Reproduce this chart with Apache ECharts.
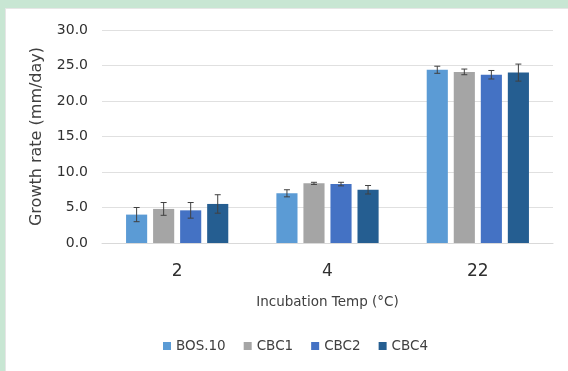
<!DOCTYPE html>
<html><head><meta charset="utf-8">
<script src="https://cdn.jsdelivr.net/npm/echarts@6/dist/echarts.min.js"></script>
<style>html,body{margin:0;padding:0;background:#c8e6d3;}#c{width:568px;height:371px;}</style>
</head><body><div id="c"></div>
<script>
const categories = ['2', '4', '22'];
const seriesNames = ['BOS.10', 'CBC1', 'CBC2', 'CBC4'];
const bos10 = [4.0, 7.0, 24.4];
const cbc1 = [4.8, 8.4, 24.1];
const cbc2 = [4.6, 8.3, 23.7];
const cbc4 = [5.5, 7.5, 24.0];
const bos10Err = [1.0, 0.5, 0.5];
const cbc1Err = [0.9, 0.15, 0.4];
const cbc2Err = [1.1, 0.25, 0.6];
const cbc4Err = [1.3, 0.6, 1.2];
const yTicks = [0, 5, 10, 15, 20, 25, 30];
const colors = ['#5b9bd5', '#a5a5a5', '#4472c4', '#255e91'];

const values = [bos10, cbc1, cbc2, cbc4];
const errs = [bos10Err, cbc1Err, cbc2Err, cbc4Err];
const chart = echarts.init(document.getElementById('c'));
const series = [];
values.forEach((v, i) => {
  series.push({
    name: seriesNames[i], type: 'bar', data: v,
    itemStyle: { color: colors[i] },
    barGap: '28%', barCategoryGap: '32%'
  });
});
values.forEach((v, i) => {
  series.push({
    type: 'custom', name: seriesNames[i] + '_err', z: 10,
    data: v.map((val, j) => [j, val - errs[i][j], val + errs[i][j]]),
    renderItem: function (params, api) {
      const ci = api.value(0);
      const lo = api.coord([ci, api.value(1)]);
      const hi = api.coord([ci, api.value(2)]);
      const bw = api.size([1, 0])[0];
      const n = 4, barW = bw * (1 - 0.32) / (n + (n - 1) * 0.28);
      const total = n * barW + (n - 1) * 0.28 * barW;
      const x = lo[0] - total / 2 + barW / 2 + i * barW * 1.28;
      const hw = 3;
      const st = { stroke: '#404040', lineWidth: 1 };
      return { type: 'group', children: [
        { type: 'line', shape: { x1: x, y1: lo[1], x2: x, y2: hi[1] }, style: st },
        { type: 'line', shape: { x1: x - hw, y1: lo[1], x2: x + hw, y2: lo[1] }, style: st },
        { type: 'line', shape: { x1: x - hw, y1: hi[1], x2: x + hw, y2: hi[1] }, style: st }
      ]};
    }
  });
});
chart.setOption({
  animation: false,
  textStyle: { fontFamily: 'DejaVu Sans, sans-serif' },
  graphic: [{ type: 'rect', left: 5, top: 8, shape: { width: 563, height: 363 },
    style: { fill: '#ffffff', stroke: '#e6e6e6', lineWidth: 1 }, z: -10 }],
  color: colors,
  grid: { left: 102, right: 15, top: 30, bottom: 128 },
  legend: {
    data: seriesNames, bottom: 13, left: 158, itemWidth: 8, itemHeight: 8,
    itemGap: 18, itemStyle: { borderWidth: 0 }, icon: 'rect',
    textStyle: { color: '#404040', fontSize: 13.5 }
  },
  xAxis: {
    type: 'category', data: categories,
    name: 'Incubation Temp (°C)', nameLocation: 'middle', nameGap: 52,
    nameTextStyle: { color: '#404040', fontSize: 13.5 },
    axisLine: { lineStyle: { color: '#d9d9d9' } },
    axisTick: { show: false },
    axisLabel: { color: '#303030', fontSize: 17, margin: 20 }
  },
  yAxis: {
    type: 'value', min: 0, max: 30, interval: 5,
    name: 'Growth rate (mm/day)', nameLocation: 'middle', nameGap: 57,
    nameTextStyle: { color: '#404040', fontSize: 16 },
    axisLine: { show: false }, axisTick: { show: false },
    axisLabel: { color: '#303030', fontSize: 14, margin: 14,
      formatter: v => yTicks.includes(v) ? v.toFixed(1) : '' },
    splitLine: { lineStyle: { color: '#e0e0e0' } }
  },
  series: series
});
</script></body></html>
